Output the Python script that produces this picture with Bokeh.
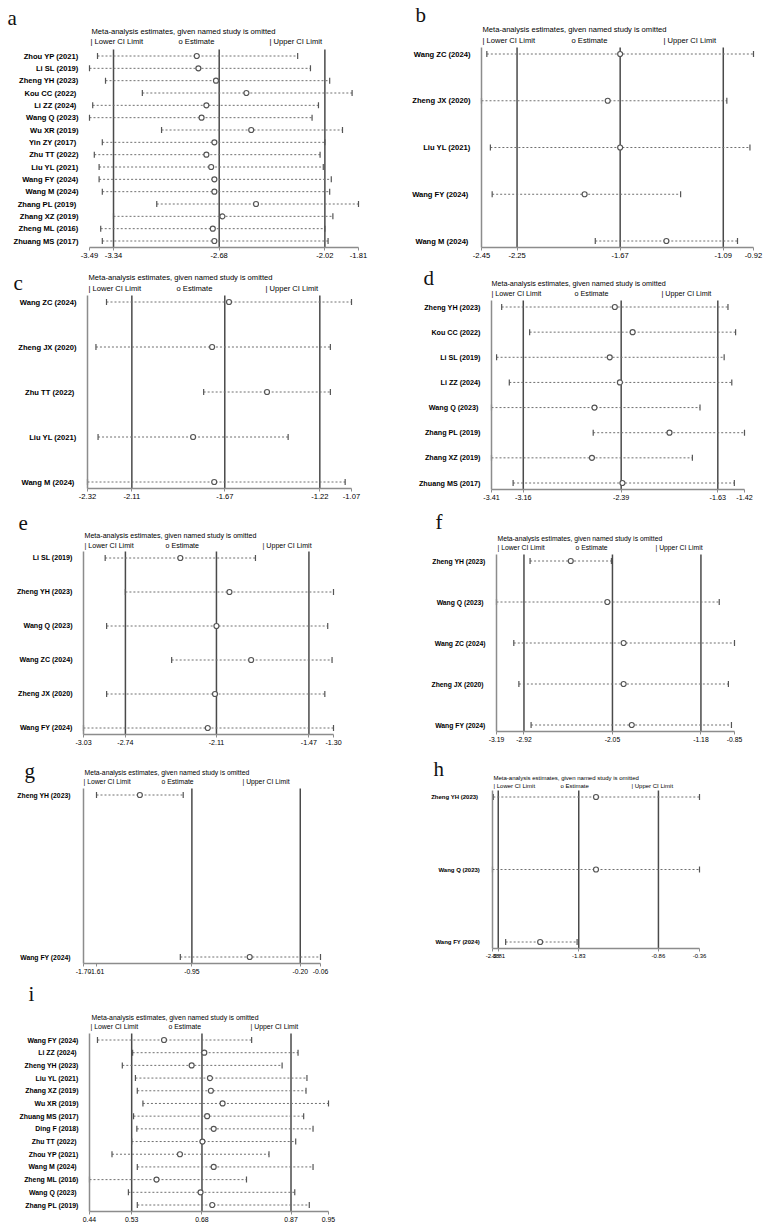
import numpy as np
from bokeh.plotting import figure
from bokeh.models import Range1d, FixedTicker
from bokeh.core.properties import value
from bokeh.layouts import column, row
from bokeh.embed import file_html
from bokeh.resources import INLINE

# ---------------- data: leave-one-out estimates per analysis ----------------
# a
a_studies = ["Zhou YP (2021)", "Li SL (2019)", "Zheng YH (2023)", "Kou CC  (2022)",
             "Li ZZ  (2024)", "Wang Q (2023)", "Wu XR (2019)", "Yin ZY  (2017)",
             "Zhu TT (2022)", "Liu YL (2021)", "Wang FY (2024)", "Wang M (2024)",
             "Zhang PL  (2019)", "Zhang XZ (2019)", "Zheng ML (2016)", "Zhuang MS (2017)"]
a_lower = [-3.44, -3.49, -3.39, -3.16, -3.47, -3.49, -3.04, -3.41, -3.46, -3.43, -3.43, -3.41, -3.07, -3.34, -3.42, -3.41]
a_est = [-2.82, -2.81, -2.70, -2.51, -2.76, -2.79, -2.48, -2.71, -2.76, -2.73, -2.71, -2.71, -2.45, -2.66, -2.72, -2.71]
a_upper = [-2.19, -2.11, -1.99, -1.85, -2.06, -2.10, -1.91, -2.02, -2.05, -2.03, -1.98, -1.99, -1.81, -1.97, -2.02, -2.00]
a_ref = [-3.34, -2.68, -2.02]
a_ticks = [-3.49, -3.34, -2.68, -2.02, -1.81]
a_ticklabels = ["-3.49", "-3.34", "-2.68", "-2.02", "-1.81"]

# b
b_studies = ["Wang ZC (2024)", "Zheng JX (2020)", "Liu YL (2021)", "Wang FY  (2024)", "Wang M  (2024)"]
b_lower = [-2.42, -2.45, -2.40, -2.39, -1.81]
b_est = [-1.67, -1.74, -1.67, -1.87, -1.41]
b_upper = [-0.92, -1.07, -0.94, -1.33, -1.01]
b_ref = [-2.25, -1.67, -1.09]
b_ticks = [-2.45, -2.25, -1.67, -1.09, -0.92]
b_ticklabels = ["-2.45", "-2.25", "-1.67", "-1.09", "-0.92"]

# c
c_studies = ["Wang ZC (2024)", "Zheng JX (2020)", "Zhu TT  (2022)", "Liu YL (2021)", "Wang M  (2024)"]
c_lower = [-2.23, -2.28, -1.77, -2.27, -2.32]
c_est = [-1.65, -1.73, -1.47, -1.82, -1.72]
c_upper = [-1.07, -1.17, -1.17, -1.37, -1.10]
c_ref = [-2.11, -1.67, -1.22]
c_ticks = [-2.32, -2.11, -1.67, -1.22, -1.07]
c_ticklabels = ["-2.32", "-2.11", "-1.67", "-1.22", "-1.07"]

# d
d_studies = ["Zheng YH (2023)", "Kou CC (2022)", "Li SL (2019)", "Li ZZ (2024)",
             "Wang Q  (2023)", "Zhang PL (2019)", "Zhang XZ (2019)", "Zhuang MS (2017)"]
d_lower = [-3.33, -3.11, -3.37, -3.27, -3.41, -2.61, -3.41, -3.24]
d_est = [-2.44, -2.30, -2.48, -2.40, -2.60, -2.01, -2.62, -2.38]
d_upper = [-1.55, -1.49, -1.58, -1.52, -1.77, -1.42, -1.83, -1.50]
d_ref = [-3.16, -2.39, -1.63]
d_ticks = [-3.41, -3.16, -2.39, -1.63, -1.42]
d_ticklabels = ["-3.41", "-3.16", "-2.39", "-1.63", "-1.42"]

# e
e_studies = ["Li SL (2019)", "Zheng YH (2023)", "Wang Q (2023)", "Wang ZC (2024)", "Zheng JX (2020)", "Wang FY (2024)"]
e_lower = [-2.88, -2.74, -2.87, -2.42, -2.87, -3.03]
e_est = [-2.36, -2.02, -2.11, -1.87, -2.12, -2.17]
e_upper = [-1.84, -1.30, -1.34, -1.31, -1.36, -1.30]
e_ref = [-2.74, -2.11, -1.47]
e_ticks = [-3.03, -2.74, -2.11, -1.47, -1.30]
e_ticklabels = ["-3.03", "-2.74", "-2.11", "-1.47", "-1.30"]

# f
f_studies = ["Zheng YH (2023)", "Wang Q  (2023)", "Wang ZC (2024)", "Zheng JX  (2020)", "Wang FY (2024)"]
f_lower = [-2.86, -3.19, -3.02, -2.97, -2.85]
f_est = [-2.46, -2.10, -1.94, -1.94, -1.86]
f_upper = [-2.06, -1.00, -0.85, -0.91, -0.88]
f_ref = [-2.92, -2.05, -1.18]
f_ticks = [-3.19, -2.92, -2.05, -1.18, -0.85]
f_ticklabels = ["-3.19", "-2.92", "-2.05", "-1.18", "-0.85"]

# g
g_studies = ["Zheng YH  (2023)", "Wang FY  (2024)"]
g_lower = [-1.61, -1.03]
g_est = [-1.31, -0.55]
g_upper = [-1.01, -0.06]
g_ref = [-0.95, -0.20]
g_ticks = [-1.70, -1.61, -0.95, -0.20, -0.06]
g_ticklabels = ["-1.70", "-1.61", "-0.95", "-0.20", "-0.06"]

# h
h_studies = ["Zheng  YH  (2023)", "Wang Q  (2023)", "Wang  FY (2024)"]
h_lower = [-2.87, -2.88, -2.72]
h_est = [-1.62, -1.62, -2.30]
h_upper = [-0.36, -0.36, -1.85]
h_ref = [-2.81, -1.83, -0.86]
h_ticks = [-2.88, -2.81, -1.83, -0.86, -0.36]
h_ticklabels = ["-2.88", "-2.81", "-1.83", "-0.86", "-0.36"]

# i
i_studies = ["Wang FY (2024)", "Li ZZ  (2024)", "Zheng YH (2023)", "Liu YL (2021)", "Zhang XZ (2019)",
             "Wu XR (2019)", "Zhuang MS (2017)", "Ding F (2018)", "Zhu TT  (2022)", "Zhou YP (2021)",
             "Wang M  (2024)", "Zheng ML (2016)", "Wang Q  (2023)", "Zhang PL (2019)"]
i_lower = [0.457, 0.532, 0.510, 0.538, 0.542, 0.554, 0.534, 0.541, 0.530, 0.488, 0.542, 0.440, 0.523, 0.542]
i_est = [0.599, 0.685, 0.658, 0.697, 0.699, 0.724, 0.691, 0.705, 0.681, 0.633, 0.705, 0.583, 0.677, 0.702]
i_upper = [0.786, 0.885, 0.851, 0.904, 0.902, 0.950, 0.897, 0.917, 0.880, 0.823, 0.917, 0.775, 0.878, 0.909]
i_ref = [0.53, 0.68, 0.87]
i_ticks = [0.44, 0.53, 0.68, 0.87, 0.95]
i_ticklabels = ["0.44", "0.53", "0.68", "0.87", "0.95"]

TITLE = "Meta-analysis estimates, given named study is omitted"
LEGEND = ["| Lower CI Limit", "o Estimate", "| Upper CI Limit"]

SANS = "Liberation Sans"
SERIF = "Liberation Serif"
AXIS_GREY = "#8c8c8c"
REF_GREY = "#4a4a4a"
MARK_GREY = "#555555"
TEXT = "#000000"


def panel(letter, studies, lower, est, upper, ref, ticks, ticklabels, geo, fs, txt, left_line=True):
    # geo: figure size and the pixel margins around the plotting area
    W, H, bl, br, bt, bb = geo
    n = len(studies)
    xmin, xmax = ticks[0], ticks[-1]
    pad = 6.5
    kx = (W - bl - br) / (xmax - xmin)                # px per data unit (x)
    ky = (H - bt - bb - 2 * pad) / (n - 1)            # px per row (y)
    x0, x1 = xmin - bl / kx, xmax + br / kx
    y_axis, y_top = 1 - pad / ky, n + pad / ky
    y0, y1 = y_axis - bb / ky, y_top + bt / ky
    ys = list(range(n, 0, -1))

    def X(px):
        return x0 + px / kx

    def Y(py):
        return y1 - py / ky

    p = figure(width=W, height=H, min_border=0,
               x_range=Range1d(x0, x1), y_range=Range1d(y0, y1),
               output_backend="svg", toolbar_location=None, title=None)
    p.xgrid.visible = False
    p.ygrid.visible = False
    p.outline_line_color = None
    p.background_fill_color = "white"
    p.border_fill_color = "white"

    xa = p.xaxis[0]
    xa.fixed_location = y_axis
    xa.bounds = (xmin, xmax)
    xa.ticker = FixedTicker(ticks=ticks)
    xa.major_label_overrides = {t: s for t, s in zip(ticks, ticklabels)}
    xa.axis_line_color = AXIS_GREY
    xa.axis_line_width = 1.5
    xa.major_tick_line_color = AXIS_GREY
    xa.major_tick_out = 3
    xa.major_tick_in = 0
    xa.minor_tick_line_color = None
    xa.major_label_standoff = 2
    xa.major_label_text_font = SANS
    xa.major_label_text_font_size = fs
    xa.major_label_text_color = TEXT

    ya = p.yaxis[0]
    ya.fixed_location = xmin
    ya.bounds = (y_axis, y_top)
    ya.ticker = FixedTicker(ticks=ys)
    ya.major_label_overrides = {yv: s for yv, s in zip(ys, studies)}
    ya.axis_line_color = AXIS_GREY if left_line else None
    ya.axis_line_width = 1.5
    ya.major_tick_line_color = None
    ya.minor_tick_line_color = None
    ya.major_label_standoff = 5
    ya.major_label_text_font = SANS
    ya.major_label_text_font_style = "bold"
    ya.major_label_text_font_size = fs
    ya.major_label_text_color = TEXT

    # pooled lower limit / estimate / upper limit reference lines
    p.segment(x0=ref, x1=ref, y0=[y_axis] * len(ref), y1=[y_top] * len(ref),
              line_color=REF_GREY, line_width=1.5)

    p.segment(x0=lower, y0=ys, x1=upper, y1=ys, line_color="#707070", line_width=1, line_dash="2 2")
    p.scatter(x=lower, y=ys, marker="dash", angle=np.pi / 2, size=6, line_color=MARK_GREY, line_width=1.2)
    p.scatter(x=upper, y=ys, marker="dash", angle=np.pi / 2, size=6, line_color=MARK_GREY, line_width=1.2)
    p.scatter(x=est, y=ys, marker="circle", size=5, fill_color="white", line_color=MARK_GREY, line_width=1.2)

    lx, ly, tx, ty, legy, legx = txt
    p.text(x=[X(lx)], y=[Y(ly)], text=[letter], text_font=value(SERIF), text_font_size=value("21px"),
           text_baseline=value("alphabetic"), text_align=value("left"), text_color="#111111")
    p.text(x=[X(tx)], y=[Y(ty)], text=[TITLE], text_font=value(SANS), text_font_size=value(fs),
           text_baseline=value("middle"), text_align=value("left"), text_color=TEXT)
    p.text(x=[X(v) for v in legx], y=[Y(legy)] * 3, text=LEGEND, text_font=value(SANS),
           text_font_size=value(fs), text_baseline=value("middle"), text_align=value("left"), text_color=TEXT)
    return p


# geometry: (width, height, margin_left, margin_right, margin_top, margin_bottom)
# text positions: (letter x, letter baseline, title x, title y, legend y, legend xs)
pa = panel("a", a_studies, a_lower, a_est, a_upper, a_ref, a_ticks, a_ticklabels,
           (380, 268, 89, 22, 49, 21), "7.6px", (7, 17, 91, 31, 41, (90, 178, 269)), left_line=False)
pc = panel("c", c_studies, c_lower, c_est, c_upper, c_ref, c_ticks, c_ticklabels,
           (380, 237, 87, 29, 27, 17), "7.6px", (13, 14, 88, 9, 19.5, (88, 176, 265)))
pe = panel("e", e_studies, e_lower, e_est, e_upper, e_ref, e_ticks, e_ticklabels,
           (380, 250, 83, 47, 46, 21), "7.1px", (18, 17, 84, 30, 40, (84, 165, 262)))
pg = panel("g", g_studies, g_lower, g_est, g_upper, g_ref, g_ticks, g_ticklabels,
           (380, 225, 83, 60, 33, 17), "6.8px", (24, 15, 84, 17, 26, (83, 161, 242)))
pi = panel("i", i_studies, i_lower, i_est, i_upper, i_ref, i_ticks, i_ticklabels,
           (380, 245, 89, 52, 53, 14), "6.9px", (28, 13, 91, 37, 46, (90, 168, 250)))

pb = panel("b", b_studies, b_lower, b_est, b_upper, b_ref, b_ticks, b_ticklabels,
           (387, 262, 101, 14, 47, 15), "7.6px", (35, 14, 102, 29, 40, (102, 191, 283)))
pd = panel("d", d_studies, d_lower, d_est, d_upper, d_ref, d_ticks, d_ticklabels,
           (387, 243, 111, 23, 38, 16), "7.2px", (43, 15, 111, 21, 31, (111, 194, 281)))
pf = panel("f", f_studies, f_lower, f_est, f_upper, f_ref, f_ticks, f_ticklabels,
           (387, 240, 116, 33, 49, 14), "6.8px", (55, 16, 117, 33, 42, (117, 195, 275)))
ph = panel("h", h_studies, h_lower, h_est, h_upper, h_ref, h_ticks, h_ticklabels,
           (387, 220, 112, 68, 45, 17), "6.0px", (53, 23, 113, 32, 40, (113, 180, 251)))

layout = row(column(pa, pc, pe, pg, pi, spacing=0), column(pb, pd, pf, ph, spacing=0), spacing=0)

with open("out.html", "w") as fh:
    fh.write(file_html(layout, INLINE, title="Sensitivity analysis"))
